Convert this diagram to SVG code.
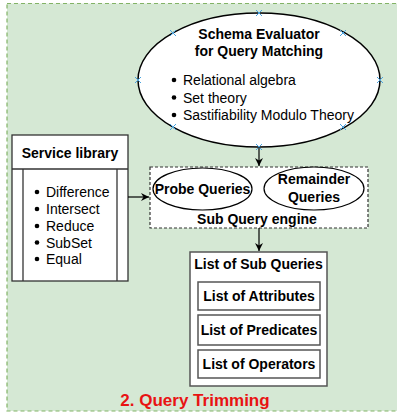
<svg xmlns="http://www.w3.org/2000/svg" width="397" height="414" viewBox="0 0 397 414">
<defs>
<style>
text{font-family:"Liberation Sans",Arial,sans-serif;fill:#000}
.b{font-weight:bold;font-size:14px}
.t{font-size:14px}
.box{fill:#fff;stroke:#555;stroke-width:1.5}
.ln{fill:none;stroke:#000;stroke-width:1.2}
.cx{stroke:#4aa3df;stroke-width:1}
</style>
<marker id="ah" markerWidth="10" markerHeight="10" refX="8" refY="5" orient="auto" markerUnits="userSpaceOnUse">
<path d="M0,1 L8,5 L0,9 L2.5,5 Z" fill="#000"/>
</marker>
</defs>
<rect id="bg" x="7" y="3.5" width="400" height="407.5" fill="#d5e8d4" stroke="#82b366" stroke-width="1.2" stroke-dasharray="4 3"/>
<g id="schema-evaluator">
<ellipse cx="259" cy="80" rx="121" ry="67" fill="#fff" stroke="#000" stroke-width="1.5"/>
<text class="b" x="259" y="39" text-anchor="middle">Schema Evaluator</text>
<text class="b" x="259" y="56" text-anchor="middle">for Query Matching</text>
<circle cx="174" cy="80" r="2.3"/>
<circle cx="174" cy="97.5" r="2.3"/>
<circle cx="174" cy="115" r="2.3"/>
<text class="t" x="183" y="85">Relational algebra</text>
<text class="t" x="183" y="102.5">Set theory</text>
<text class="t" x="183" y="120">Sastifiability Modulo Theory</text>
<g class="cx">
<path d="M256,10 l6,6 M262,10 l-6,6"/>
<path d="M170,30 l6,6 M176,30 l-6,6"/>
<path d="M340,30 l6,6 M346,30 l-6,6"/>
<path d="M135,77 l6,6 M141,77 l-6,6"/>
<path d="M377,77 l6,6 M383,77 l-6,6"/>
<path d="M170,124 l6,6 M176,124 l-6,6"/>
<path d="M340,124 l6,6 M346,124 l-6,6"/>
<path d="M256,144 l6,6 M262,144 l-6,6"/>
</g>
</g>
<g id="service-library">
<rect x="12" y="135" width="116" height="146" fill="#fff" stroke="#333" stroke-width="1.3"/>
<line x1="12" y1="169" x2="128" y2="169" stroke="#333" stroke-width="1.3"/>
<line x1="23" y1="169" x2="23" y2="281" stroke="#333" stroke-width="1.3"/>
<line x1="117" y1="169" x2="117" y2="281" stroke="#333" stroke-width="1.3"/>
<text class="b" x="70" y="158" text-anchor="middle">Service library</text>
<circle cx="37" cy="192" r="2.3"/>
<circle cx="37" cy="209" r="2.3"/>
<circle cx="37" cy="226" r="2.3"/>
<circle cx="37" cy="242.5" r="2.3"/>
<circle cx="37" cy="259" r="2.3"/>
<text class="t" x="46" y="197">Difference</text>
<text class="t" x="46" y="214">Intersect</text>
<text class="t" x="46" y="231">Reduce</text>
<text class="t" x="46" y="247.5">SubSet</text>
<text class="t" x="46" y="264">Equal</text>
</g>
<g id="sub-query-engine">
<rect x="150" y="167" width="218" height="61" fill="#fff" stroke="#333" stroke-width="1.2" stroke-dasharray="3 2"/>
<text class="b" x="257" y="224" text-anchor="middle">Sub Query engine</text>
</g>
<g id="probe-queries">
<ellipse cx="202.5" cy="189" rx="49.5" ry="21" fill="#fff" stroke="#000" stroke-width="1.2"/>
<text class="b" x="202.5" y="194" text-anchor="middle">Probe Queries</text>
</g>
<g id="remainder-queries">
<ellipse cx="314" cy="188.5" rx="50" ry="21.5" fill="#fff" stroke="#000" stroke-width="1.2"/>
<text class="b" x="314" y="184" text-anchor="middle">Remainder</text>
<text class="b" x="314" y="202" text-anchor="middle">Queries</text>
</g>
<g id="list-of-sub-queries">
<rect x="190" y="252" width="137" height="134" fill="#fff" stroke="#555" stroke-width="1.5"/>
<text class="b" x="258.5" y="269" text-anchor="middle">List of Sub Queries</text>
</g>
<g id="list-of-attributes">
<rect class="box" x="198" y="282" width="122" height="28"/>
<text class="b" x="259" y="301" text-anchor="middle">List of Attributes</text>
</g>
<g id="list-of-predicates">
<rect class="box" x="198" y="315" width="122" height="30"/>
<text class="b" x="259" y="335" text-anchor="middle">List of Predicates</text>
</g>
<g id="list-of-operators">
<rect class="box" x="198" y="350" width="122" height="28"/>
<text class="b" x="259" y="369" text-anchor="middle">List of Operators</text>
</g>
<g id="connectors">
<line class="ln" x1="259" y1="147" x2="259" y2="166" marker-end="url(#ah)"/>
<line class="ln" x1="128" y1="197" x2="149" y2="197" marker-end="url(#ah)"/>
<line class="ln" x1="259" y1="228" x2="259" y2="251" marker-end="url(#ah)"/>
</g>
<text id="title" x="195" y="406" text-anchor="middle" font-size="17" font-weight="bold" style="fill:#e81313">2. Query Trimming</text>
</svg>
